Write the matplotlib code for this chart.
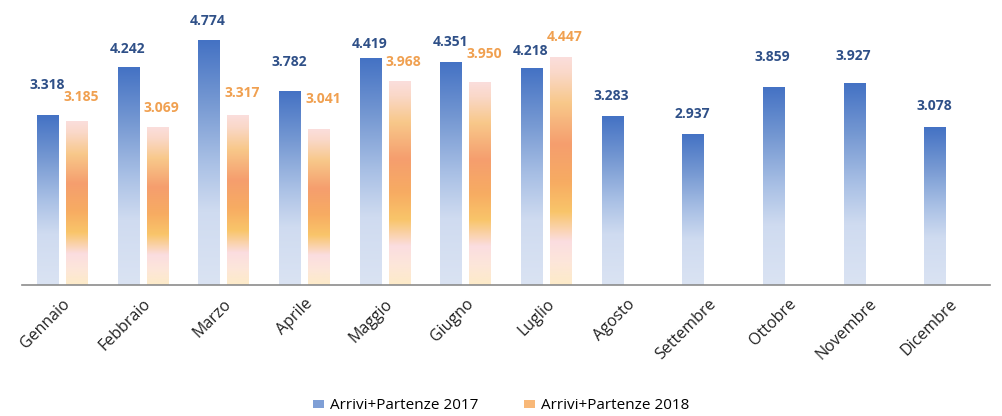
import numpy as np
import matplotlib.pyplot as plt
from matplotlib.colors import LinearSegmentedColormap
from matplotlib.patches import Patch

mesi = ['Gennaio', 'Febbraio', 'Marzo', 'Aprile', 'Maggio', 'Giugno',
        'Luglio', 'Agosto', 'Settembre', 'Ottobre', 'Novembre', 'Dicembre']
val_2017 = [3318, 4242, 4774, 3782, 4419, 4351, 4218, 3283, 2937, 3859, 3927, 3078]
val_2018 = [3185, 3069, 3317, 3041, 3968, 3950, 4447]

# distanza (px) tra cima barra e centro etichetta, come nell'originale
lift_2017 = [30, 19, 19, 29, 15, 20, 18, 21, 20, 30, 28, 21]
lift_2018 = [25, 20, 22, 30, 20, 29, 20]

# gradient: 0 = bottom, 1 = top
cmap_blu = LinearSegmentedColormap.from_list('blu', [
    (0.0, '#dae3f3'), (0.3, '#cfdbf0'), (0.5, '#a9c0e5'),
    (0.75, '#7598d2'), (1.0, '#4472c4')])
cmap_ara = LinearSegmentedColormap.from_list('ara', [
    (0.0, '#fdebc8'), (0.1, '#fde6da'), (0.19, '#fbdde0'),
    (0.32, '#f9c56a'), (0.45, '#f7ac62'), (0.62, '#f59e6e'),
    (0.8, '#f8c88a'), (0.93, '#fad8c8'), (1.0, '#fbdedc')])

fig = plt.figure(figsize=(10.02, 4.16), dpi=100)
ax = fig.add_axes([0.022, 0.315, 0.966, 0.665])

x = np.arange(len(mesi))
w = 0.27
off = 0.18
grad = np.linspace(0, 1, 256).reshape(-1, 1)
px = 0.72  # punti per pixel a 100 dpi


def gradient_bar(xc, h, cmap):
    ax.imshow(grad, cmap=cmap, origin='lower', aspect='auto',
              extent=(xc - w / 2, xc + w / 2, 0, h / 1000), zorder=2)


def etichetta(xc, v, lift, dx, col):
    ax.annotate(f'{v:,}'.replace(',', '.'), (xc, v / 1000),
                xytext=(dx * px, lift * px), textcoords='offset points',
                ha='center', va='center', fontsize=10, fontweight='bold',
                color=col, family='Open Sans')


for i, v in enumerate(val_2017):
    gradient_bar(x[i] - off, v, cmap_blu)
    etichetta(x[i] - off, v, lift_2017[i], -1, '#2f5088')

for i, v in enumerate(val_2018):
    gradient_bar(x[i] + off, v, cmap_ara)
    etichetta(x[i] + off, v, lift_2018[i], 4, '#f0a050')

ax.set_xlim(-0.5, len(mesi) - 0.5)
ax.set_ylim(0, 5.4)
ax.set_yticks([])
ax.set_xticks(x)
ax.set_xticklabels(mesi, rotation=45, ha='right', rotation_mode='anchor',
                   fontsize=11.5, color='#222222', family='Open Sans')
ax.tick_params(axis='x', length=0, pad=8)
for s in ['top', 'right', 'left']:
    ax.spines[s].set_visible(False)
ax.spines['bottom'].set_color('#8c8c8c')
ax.spines['bottom'].set_linewidth(1.2)

handles = [Patch(facecolor='#7f9fd6', label='Arrivi+Partenze 2017'),
           Patch(facecolor='#f8b878', label='Arrivi+Partenze 2018')]
fig.legend(handles=handles, loc='center', bbox_to_anchor=(0.5, 0.025),
           ncol=2, frameon=False, handlelength=0.7,
           handleheight=0.45, columnspacing=3.0, handletextpad=0.4,
           prop={'family': 'Open Sans', 'size': 11})

fig.savefig('out.png', dpi=100)
